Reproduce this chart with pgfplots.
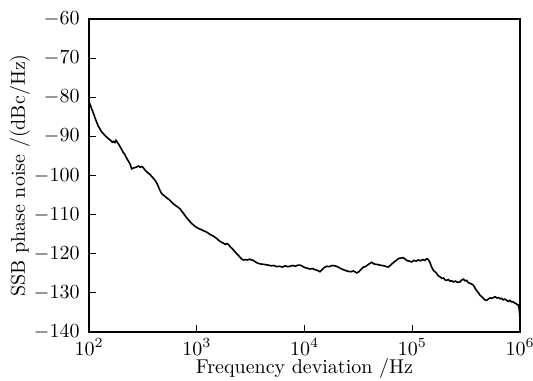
\documentclass[border=0pt]{standalone}
\usepackage{pgfplots}
\pgfplotsset{compat=1.18}
\begin{document}
\begin{tikzpicture}
\begin{axis}[
  scale only axis,
  width=215.5pt, height=156.5pt,
  xmin=2, xmax=6, ymin=-140, ymax=-60,
  xtick={2,3,4,5,6},
  xticklabels={$10^2$,$10^3$,$10^4$,$10^5$,$10^6$},
  ytick={-140,-130,...,-60},
  minor tick num=0,
  tick align=inside,
  xtick pos=bottom, ytick pos=left,
  major tick length=3.5pt,
  tick style={black, line width=0.5pt},
  axis line style={line width=0.6pt},
  xlabel={Frequency deviation /Hz},
  ylabel={SSB phase noise /(dBc/Hz)},
  xlabel style={at={(axis description cs:0.5,0)}, anchor=center, yshift=-18.5pt},
  ylabel style={at={(axis description cs:0,0.5)}, anchor=center, rotate=0, yshift=34.5pt},
  xticklabel style={anchor=center, yshift=-7.5pt},
  yticklabel style={xshift=-1.2pt},
]
\addplot[black, line width=0.8pt, mark=none] coordinates {
(2.000,-81.3)(2.010,-81.8)(2.025,-83.0)(2.040,-84.0)(2.055,-85.2)(2.070,-86.3)(2.086,-87.4)(2.100,-88.0)(2.115,-88.8)(2.130,-89.2)
(2.149,-89.8)(2.165,-90.2)(2.180,-90.6)(2.200,-91.0)(2.215,-91.5)(2.226,-91.3)(2.240,-91.6)(2.250,-91.0)(2.262,-91.5)(2.275,-92.0)
(2.288,-92.6)(2.300,-93.2)(2.315,-94.0)(2.330,-94.5)(2.350,-95.6)(2.365,-96.3)(2.380,-97.0)(2.396,-98.3)(2.410,-98.1)(2.425,-98.0)
(2.443,-97.8)(2.460,-97.6)(2.475,-97.9)(2.490,-97.7)(2.504,-98.0)(2.520,-98.6)(2.535,-99.0)(2.550,-99.4)(2.566,-99.7)(2.580,-100.2)
(2.600,-100.8)(2.615,-101.3)(2.628,-101.9)(2.640,-102.6)(2.655,-103.6)(2.668,-104.3)(2.680,-104.8)(2.700,-105.2)(2.720,-105.7)(2.740,-106.1)
(2.752,-106.4)(2.770,-106.9)(2.790,-107.4)(2.810,-107.8)(2.830,-108.2)(2.845,-108.5)(2.860,-109.1)(2.880,-109.8)(2.900,-110.6)(2.920,-111.2)
(2.937,-111.8)(2.955,-112.3)(2.975,-112.8)(3.000,-113.3)(3.020,-113.6)(3.040,-113.8)(3.060,-114.1)(3.080,-114.3)(3.100,-114.6)(3.120,-115.0)
(3.140,-115.3)(3.160,-115.6)(3.185,-116.1)(3.205,-116.6)(3.225,-117.0)(3.247,-117.3)(3.265,-117.6)(3.280,-117.4)(3.293,-117.6)(3.310,-118.2)
(3.330,-118.7)(3.355,-119.5)(3.375,-120.1)(3.395,-120.7)(3.415,-121.3)(3.432,-121.6)(3.450,-121.5)(3.470,-121.6)(3.490,-121.4)(3.510,-121.6)
(3.525,-121.7)(3.545,-122.1)(3.565,-122.4)(3.590,-122.6)(3.618,-122.7)(3.640,-122.8)(3.665,-122.9)(3.690,-123.1)(3.715,-123.0)(3.742,-123.3)
(3.770,-123.2)(3.795,-123.4)(3.820,-123.1)(3.845,-123.3)(3.865,-123.2)(3.890,-123.0)(3.915,-123.2)(3.940,-122.9)(3.958,-122.9)(3.975,-123.1)
(4.000,-123.5)(4.025,-123.7)(4.050,-123.9)(4.075,-123.8)(4.100,-124.1)(4.125,-124.3)(4.144,-124.6)(4.165,-124.0)(4.185,-123.5)(4.206,-123.2)
(4.230,-123.3)(4.255,-123.0)(4.283,-123.1)(4.305,-123.3)(4.330,-123.7)(4.355,-124.0)(4.380,-124.3)(4.407,-124.5)(4.430,-124.6)(4.455,-124.4)
(4.484,-124.9)(4.505,-124.6)(4.525,-124.0)(4.546,-123.4)(4.565,-123.3)(4.585,-122.9)(4.605,-122.5)(4.624,-122.2)(4.645,-122.6)(4.665,-122.7)
(4.685,-122.8)(4.700,-122.9)(4.720,-123.0)(4.740,-123.1)(4.760,-123.3)(4.778,-123.4)(4.795,-123.0)(4.815,-122.5)(4.836,-122.0)(4.856,-121.6)
(4.875,-121.2)(4.895,-121.1)(4.917,-121.0)(4.935,-121.4)(4.955,-121.8)(4.975,-121.9)(4.995,-122.1)(5.015,-121.7)(5.035,-121.9)(5.056,-121.6)
(5.075,-121.8)(5.095,-121.5)(5.115,-121.7)(5.135,-121.3)(5.149,-121.5)(5.165,-122.3)(5.180,-123.4)(5.195,-124.2)(5.210,-124.6)(5.225,-125.0)
(5.240,-125.6)(5.257,-125.9)(5.275,-126.3)(5.290,-126.2)(5.305,-126.7)(5.319,-126.8)(5.335,-126.6)(5.350,-127.0)(5.365,-126.9)(5.381,-127.2)
(5.400,-127.0)(5.420,-127.3)(5.443,-127.2)(5.460,-126.7)(5.475,-126.5)(5.490,-126.9)(5.505,-126.8)(5.520,-127.4)(5.540,-127.6)(5.555,-127.8)
(5.567,-128.0)(5.585,-128.9)(5.600,-129.5)(5.615,-130.0)(5.629,-130.6)(5.645,-131.0)(5.660,-131.4)(5.675,-131.8)(5.691,-131.9)(5.705,-131.6)
(5.720,-131.3)(5.738,-131.4)(5.755,-131.2)(5.770,-131.0)(5.785,-131.3)(5.800,-131.2)(5.815,-131.5)(5.830,-131.4)(5.845,-131.8)(5.860,-131.6)
(5.876,-131.9)(5.890,-132.2)(5.905,-131.9)(5.920,-132.3)(5.938,-132.3)(5.950,-132.6)(5.962,-132.7)(5.975,-133.0)(5.985,-133.1)(5.992,-134.0)
(5.997,-135.5)(6.000,-137.0)
};
\end{axis}
\pgfresetboundingbox
\path ([shift={(-44.5pt,-24.5pt)}]current axis.south west) rectangle ([shift={(6.5pt,9.5pt)}]current axis.north east);
\end{tikzpicture}
\end{document}
